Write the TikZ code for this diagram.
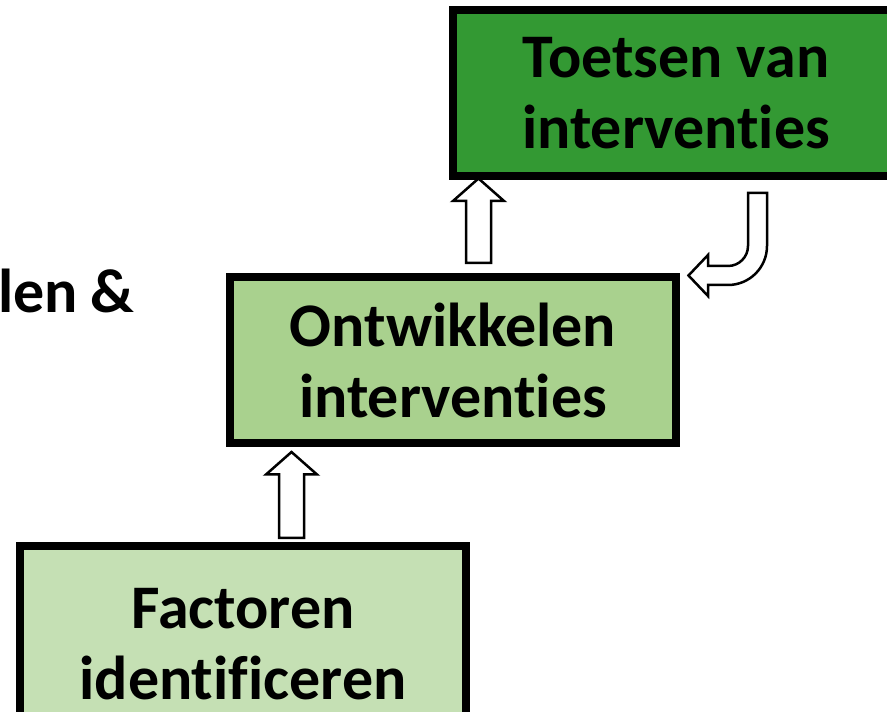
\documentclass[tikz,border=0pt]{standalone}
\usepackage{fontspec}
\setmainfont[Ligatures=NoCommon]{Carlito}
\usetikzlibrary{calc}

\definecolor{toetsgreen}{RGB}{51,153,51}
\definecolor{ontwgreen}{RGB}{169,209,142}
\definecolor{factgreen}{RGB}{197,224,180}

\newcommand\upblock[2]{%
  \draw[blockarrow] let \p1=(#1), \p2=(#2) in
    (\x1-12.5,\y1) -- (\x1+12.5,\y1) -- (\x1+12.5,\y2-22.5) -- (\x1+25.5,\y2-22.5)
    -- (\x1,\y2) -- (\x1-25.5,\y2-22.5) -- (\x1-12.5,\y2-22.5) -- cycle;}

\begin{document}
\begin{tikzpicture}[x=1pt,y=1pt,
    box/.style={draw=black, line width=8pt, minimum width=446pt, minimum height=166pt,
      inner sep=0pt, align=center, font=\bfseries\fontsize{62}{71}\selectfont},
    blockarrow/.style={draw=black, fill=white, line width=2.5pt, line join=miter}]
    \useasboundingbox (0,0) rectangle (887,712);
    \clip (0,0) rectangle (887,712);

    \node[box, fill=toetsgreen] (toetsen) at (676,619) {Toetsen van\\interventies};
    \node[box, fill=ontwgreen] (ontw) at (453,352) {Ontwikkelen\\interventies};
    \node[box, fill=factgreen, minimum height=196pt] (factoren) at (243,68) {Factoren\\identificeren};
    \node[anchor=base west, font=\bfseries\fontsize{62}{71}\selectfont, inner sep=0pt] (lenEn) at (-2,399) {len\hspace{0.2em}\&};

    % block arrows up
    \coordinate (up1b) at ([xshift=25.5pt,yshift=10pt]ontw.north);
    \coordinate (up1t) at ([yshift=1.5pt]up1b |- toetsen.south);
    \upblock{up1b}{up1t}
    \coordinate (up2b) at ([xshift=48.5pt,yshift=4pt]factoren.north);
    \coordinate (up2t) at ([yshift=-5pt]up2b |- ontw.south);
    \upblock{up2b}{up2t}

    % turning arrow back
    \coordinate (turnTop) at ([xshift=81.5pt,yshift=-13pt]toetsen.south);
    \draw[blockarrow] (turnTop) ++(-9.5,0) -- ++(19,0) -- ++(0,-53)
      arc[start angle=0, end angle=-90, radius=39] -- ++(-20,0) -- ++(0,-11)
      -- ++(-19.5,20.5) -- ++(19.5,20.5) -- ++(0,-11) -- ++(20,0)
      arc[start angle=-90, end angle=0, radius=20] -- cycle;
\end{tikzpicture}
\end{document}
